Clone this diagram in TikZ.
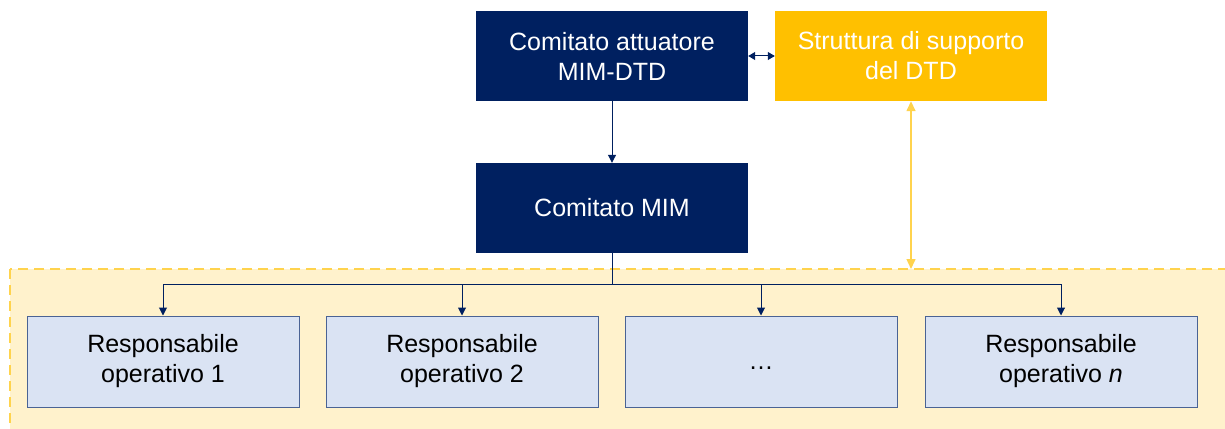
\documentclass[tikz,border=0pt]{standalone}
\usepackage{fontspec}
\setmainfont{Liberation Sans}
\usetikzlibrary{arrows.meta}
\definecolor{navy}{HTML}{002060}
\definecolor{gold}{HTML}{FFC000}
\definecolor{lightgold}{HTML}{FFF2CC}
\definecolor{dashgold}{HTML}{FFD34D}
\definecolor{paleblue}{HTML}{DAE3F3}
\definecolor{boxedge}{HTML}{4A6394}
\begin{document}
\begin{tikzpicture}[x=1pt,y=-1pt,
  every node/.style={font=\fontsize{25}{30}\selectfont, align=center, inner sep=0pt},
  navybox/.style={fill=navy, text=white, minimum width=272pt, minimum height=90pt},
  goldbox/.style={fill=gold, text=white, minimum width=272pt, minimum height=90pt},
  opbox/.style={fill=paleblue, draw=boxedge, line width=1pt, text=black, minimum width=272pt, minimum height=91pt},
  navyarrow/.style={draw=navy, line width=1pt, -{Triangle[length=8pt,width=8pt]}},
  goldarrow/.style={draw=dashgold, line width=1.5pt, {Triangle[length=10pt,width=9pt]}-{Triangle[length=10pt,width=9pt]}}
]
\useasboundingbox (0,0) rectangle (1225,428);
\begin{scope}
\clip (0,0) rectangle (1225,428);
\draw[fill=lightgold, draw=dashgold, line width=1.5pt, dash pattern=on 10pt off 6pt] (10,269) rectangle (1240,440);
\end{scope}
\node[navybox] (att) at (612,56) {Comitato attuatore\\MIM-DTD};
\node[goldbox] (sup) at (911,56) {Struttura di supporto\\del DTD};
\node[navybox] (mim) at (612,208) {Comitato MIM};
\node[opbox] (op1) at (163,361.5) {Responsabile\\operativo 1};
\node[opbox] (op2) at (462,361.5) {Responsabile\\operativo 2};
\node[opbox] (op3) at (761,361.5) {\raisebox{-8pt}[0pt][0pt]{\dots}};
\node[opbox] (op4) at (1061,361.5) {Responsabile\\operativo \textit{n}};
\coordinate (area) at (911,269);
\coordinate (bus) at (612,284);
\draw[navyarrow] (att) -- (mim);
\draw[draw=navy, line width=1pt, {Triangle[length=7pt,width=8pt]}-{Triangle[length=7pt,width=8pt]}] (att.east) -- (sup.west);
\draw[goldarrow] (sup.south -| area) -- (area);
\draw[draw=navy, line width=1pt] (mim.south) -- (bus);
\draw[draw=navy, line width=1pt] (op1.north |- bus) -- (op4.north |- bus);
\foreach \n in {op1,op2,op3,op4} \draw[navyarrow] (\n.north |- bus) -- (\n.north);
\end{tikzpicture}
\end{document}
